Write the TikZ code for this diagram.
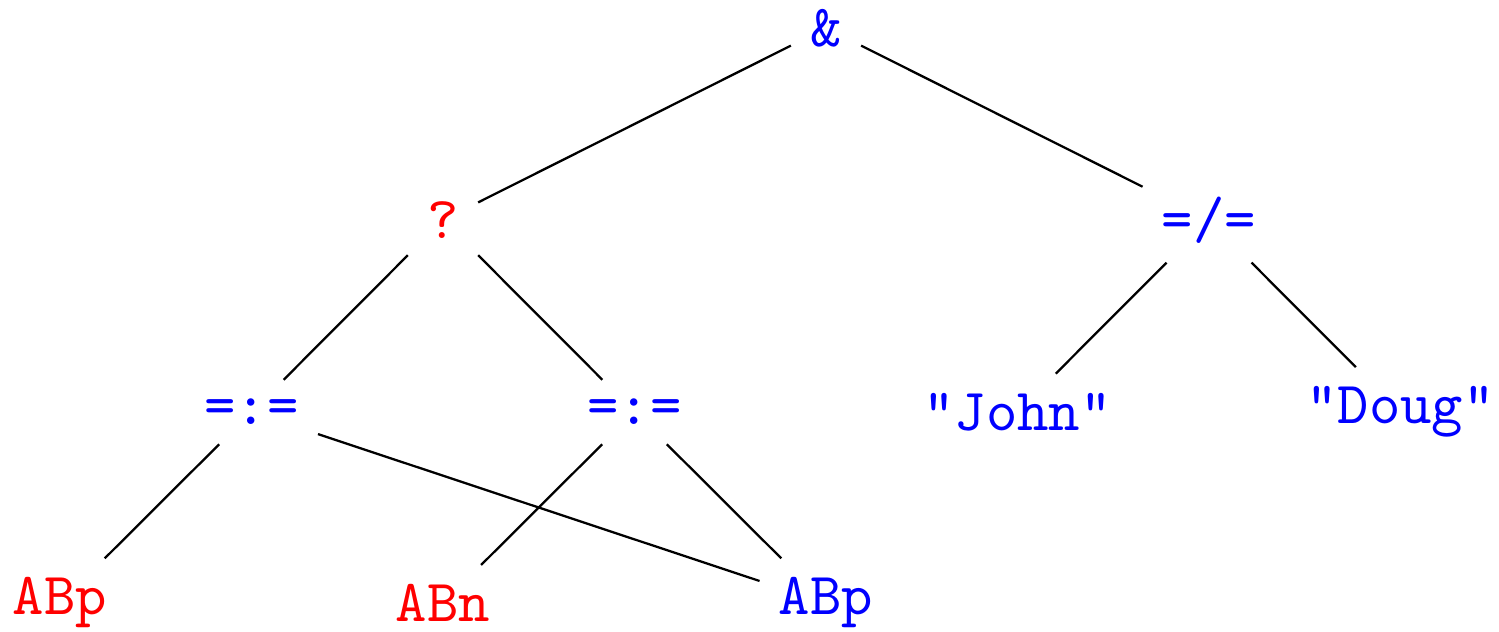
\documentclass[tikz,border=0pt]{standalone}
\usepackage{fontspec}
\newfontfamily\treefont{lmmono10-regular.otf}

\begin{document}
\begin{tikzpicture}[every node/.style={font=\fontsize{17}{20}\selectfont\treefont, inner sep=5.2pt},
    lhs/.style={text=red}, rhs/.style={text=blue}, line width=0.65pt]

  % Fixed frame, same proportions as the page
  \useasboundingbox (0,0) rectangle (14.99,6.31);

  % Levels at y = 6.03, 4.11, 2.19, 0.28
  % Columns every 1.915 starting at x = 0.6

  % Root
  \node[rhs] (conj) at (8.26,6.03) {\&};

  % Level 1
  \node[lhs] (cond) at (4.43,4.11) {?};
  \node[rhs] (neq)  at (12.09,4.11) {=/=};

  % Level 2
  \node[rhs] (eqa)  at (2.515,2.19) {=:=};
  \node[rhs] (eqb)  at (6.345,2.19) {=:=};
  \node[rhs] (john) at (10.175,2.19) {"John"};
  \node[rhs] (doug) at (14.005,2.19) {"Doug"};

  % Leaves
  \node[lhs] (abpl) at (0.6,0.28) {ABp};
  \node[lhs] (abn)  at (4.43,0.28) {ABn};
  \node[rhs] (abpr) at (8.26,0.28) {ABp};

  % Edges
  \draw (conj) -- (cond);
  \draw (conj) -- (neq);
  \draw (cond) -- (eqa);
  \draw (cond) -- (eqb);
  \draw (neq) -- (john);
  \draw (neq) -- (doug);
  \draw (eqa) -- (abpl);
  \draw (eqa) -- (abpr);
  \draw (eqb) -- (abn);
  \draw (eqb) -- (abpr);

\end{tikzpicture}
\end{document}
